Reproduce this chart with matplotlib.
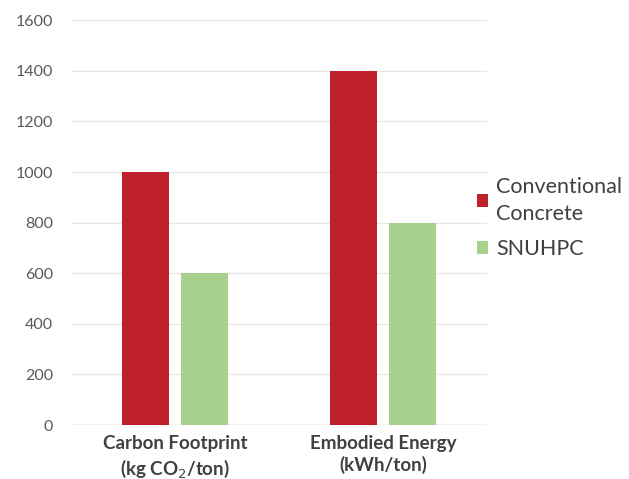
import matplotlib.pyplot as plt
import numpy as np

categories = ["Carbon Footprint\n(kg CO$_2$/ton)", "Embodied Energy\n(kWh/ton)"]
series_names = ["Conventional\nConcrete", "SNUHPC"]
conventional_values = [1000, 1400]
snuhpc_values = [600, 800]
y_ticks = [0, 200, 400, 600, 800, 1000, 1200, 1400, 1600]

colors = ["#C0202A", "#A9D18E"]

plt.rcParams["font.family"] = ["Lato", "DejaVu Sans"]

fig = plt.figure(figsize=(6.29, 4.79), dpi=100)
ax = fig.add_axes([0.113, 0.1127, 0.661, 0.845])

positions = np.arange(len(categories))
bar_width = 0.226
offset = 0.143
ax.bar(positions - offset, conventional_values, width=bar_width,
       color=colors[0], label=series_names[0], zorder=3)
ax.bar(positions + offset, snuhpc_values, width=bar_width,
       color=colors[1], label=series_names[1], zorder=3)

ax.set_xlim(-0.5, 1.5)
ax.set_ylim(0, 1600)
ax.set_yticks(y_ticks)
ax.set_xticks(positions)
ax.set_xticklabels(categories, fontsize=13.5, fontweight="bold", color="#404040",
                   linespacing=1.3)
ax.tick_params(axis="y", labelsize=11.5, labelcolor="#595959", length=0, pad=13)
ax.tick_params(axis="x", length=0, pad=7)
ax.grid(axis="y", color="#E6E6E6", linewidth=1, zorder=0)
for spine in ax.spines.values():
    spine.set_visible(False)
ax.axhline(0, color="#D9D9D9", linewidth=1, zorder=2)

leg = fig.legend(loc="center left", bbox_to_anchor=(0.727, 0.545), frameon=False,
                 fontsize=15.5, handlelength=0.55, handleheight=0.55,
                 handletextpad=0.35, labelspacing=0.7, labelcolor="#404040")
for text in leg.get_texts():
    text.set_linespacing(1.45)

fig.savefig("out.png", dpi=100)
